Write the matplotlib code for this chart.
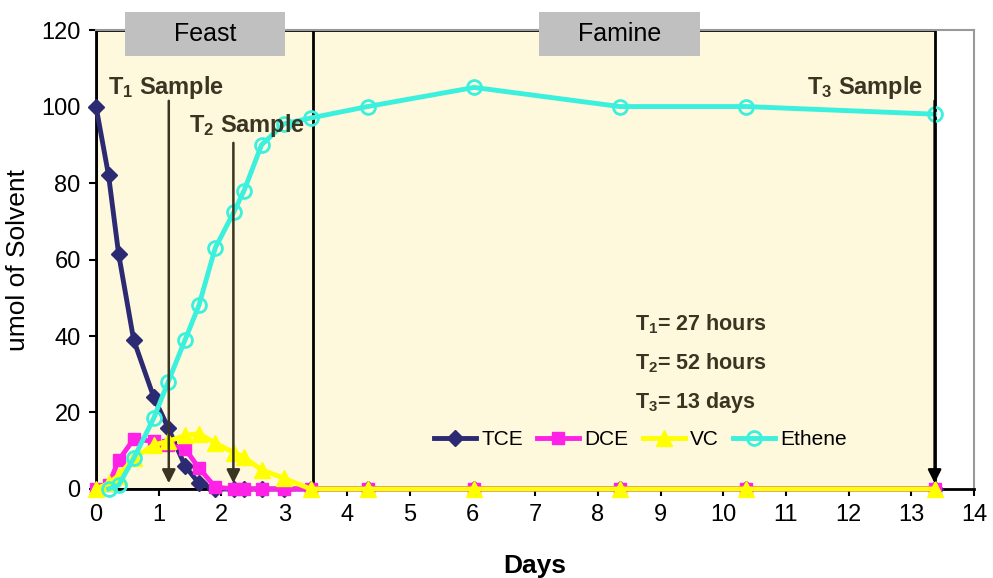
import matplotlib
matplotlib.use('Agg')
import matplotlib.pyplot as plt
from matplotlib.patches import Rectangle
import numpy as np

plt.rcParams['font.family'] = ['Liberation Sans', 'DejaVu Sans']
plt.rcParams['mathtext.fontset'] = 'custom'
plt.rcParams['mathtext.rm'] = 'Liberation Sans'
plt.rcParams['mathtext.bf'] = 'Liberation Sans:bold'

# sampling times (days)
days = [0, 0.2, 0.36, 0.6, 0.92, 1.15, 1.42, 1.64, 1.9, 2.2, 2.36, 2.64, 3.0, 3.42,
        4.33, 6.03, 8.35, 10.37, 13.37]
tce = [100, 82, 61.5, 39, 24, 16, 6, 1.5, 0, 0, 0, 0, 0, 0, 0, 0, 0, 0, 0]
dce = [0, 1, 7.5, 13, 12.5, 11.5, 10.5, 5.5, 0.5, 0, 0, 0, 0, 0, 0, 0, 0, 0, 0]
vc = [0, 1.5, 3.5, 8, 11.5, 12.5, 14, 14.5, 12, 9.5, 8.3, 5, 2.8, 0, 0, 0, 0, 0, 0]
ethene = [np.nan, 0, 1, 8, 18.5, 28, 39, 48, 63, 72.5, 78, 90, 95.5, 97,
          100, 105, 100, 100, 98]

feast_end = 3.46
study_end = 13.37
sample_days = [1.16, 2.19, 13.37]
phase_names = ['Feast', 'Famine']
phase_centers = [1.74, 8.35]

olive = '#3A3522'

fig = plt.figure(figsize=(9.93, 5.78), dpi=100)
ax = fig.add_axes([0.0967, 0.154, 0.8843, 0.794])

ax.add_patch(Rectangle((0, 0), study_end, 120, facecolor='#FEF8DC',
                       edgecolor='black', lw=2, zorder=0))
ax.axvline(feast_end, color='black', lw=2, zorder=1)

ax.plot(days, tce, color='#2B2A72', lw=3.5, marker='D', ms=8, label='TCE',
        clip_on=False, zorder=3)
ax.plot(days, dce, color='#FF22E6', lw=3.5, marker='s', ms=8, label='DCE',
        clip_on=False, zorder=3)
ax.plot(days, vc, color='#FFFF00', lw=3.5, marker='^', ms=11, label='VC',
        clip_on=False, zorder=3)
ax.plot(days, ethene, color='#3BF0DC', lw=3.5, marker='o', ms=10, mfc='none',
        mew=2, label='Ethene', clip_on=False, zorder=4)

# sample arrows
arrow_tops = [101.5, 90.5, 101.5]
arrow_cols = [olive, olive, 'black']
for d, top, c in zip(sample_days, arrow_tops, arrow_cols):
    ax.annotate('', xy=(d, 1.5), xytext=(d, top),
                arrowprops=dict(arrowstyle='-|>', color=c, lw=1.8,
                                mutation_scale=20, shrinkA=0, shrinkB=0),
                zorder=5)

ax.text(0.19, 105, r'$\mathbf{T_1}$ Sample', fontsize=17, fontweight='bold',
        color=olive, va='center', ha='left')
ax.text(1.48, 95, r'$\mathbf{T_2}$ Sample', fontsize=17, fontweight='bold',
        color=olive, va='center', ha='left', zorder=6)
ax.text(13.19, 105, r'$\mathbf{T_3}$ Sample', fontsize=17, fontweight='bold',
        color=olive, va='center', ha='right')

info = [r'$\mathbf{T_1}$= 27 hours', r'$\mathbf{T_2}$= 52 hours',
        r'$\mathbf{T_3}$= 13 days']
for txt, yy in zip(info, [43.1, 32.9, 22.7]):
    ax.text(8.6, yy, txt, fontsize=15.5, fontweight='bold', color=olive,
            va='center', ha='left')

# phase labels
for name, cx in zip(phase_names, phase_centers):
    ax.add_patch(Rectangle((cx - 1.28, 113.2), 2.56, 11.5, facecolor='#C0C0C0',
                           edgecolor='none', clip_on=False, zorder=6))
    ax.text(cx, 118.9, name, fontsize=18, ha='center', va='center', zorder=7)

ax.set_xlim(0, 14)
ax.set_ylim(0, 120)
ax.set_xticks(range(0, 15))
ax.set_yticks(range(0, 121, 20))
ax.tick_params(direction='out', length=5, width=1.5, labelsize=17, pad=6)
for s in ['left', 'bottom']:
    ax.spines[s].set_linewidth(2)
for s in ['top', 'right']:
    ax.spines[s].set_color('#999999')
    ax.spines[s].set_linewidth(1.5)

ax.set_xlabel('Days', fontsize=19, fontweight='bold', labelpad=20)
ax.set_ylabel('umol of Solvent', fontsize=19, labelpad=8)

ax.legend(loc='center', bbox_to_anchor=(0.62, 0.107), ncol=4, frameon=False,
          fontsize=15, handlelength=2.0, columnspacing=0.7, handletextpad=0.25,
          borderaxespad=0)

fig.savefig('out.png', dpi=100)
